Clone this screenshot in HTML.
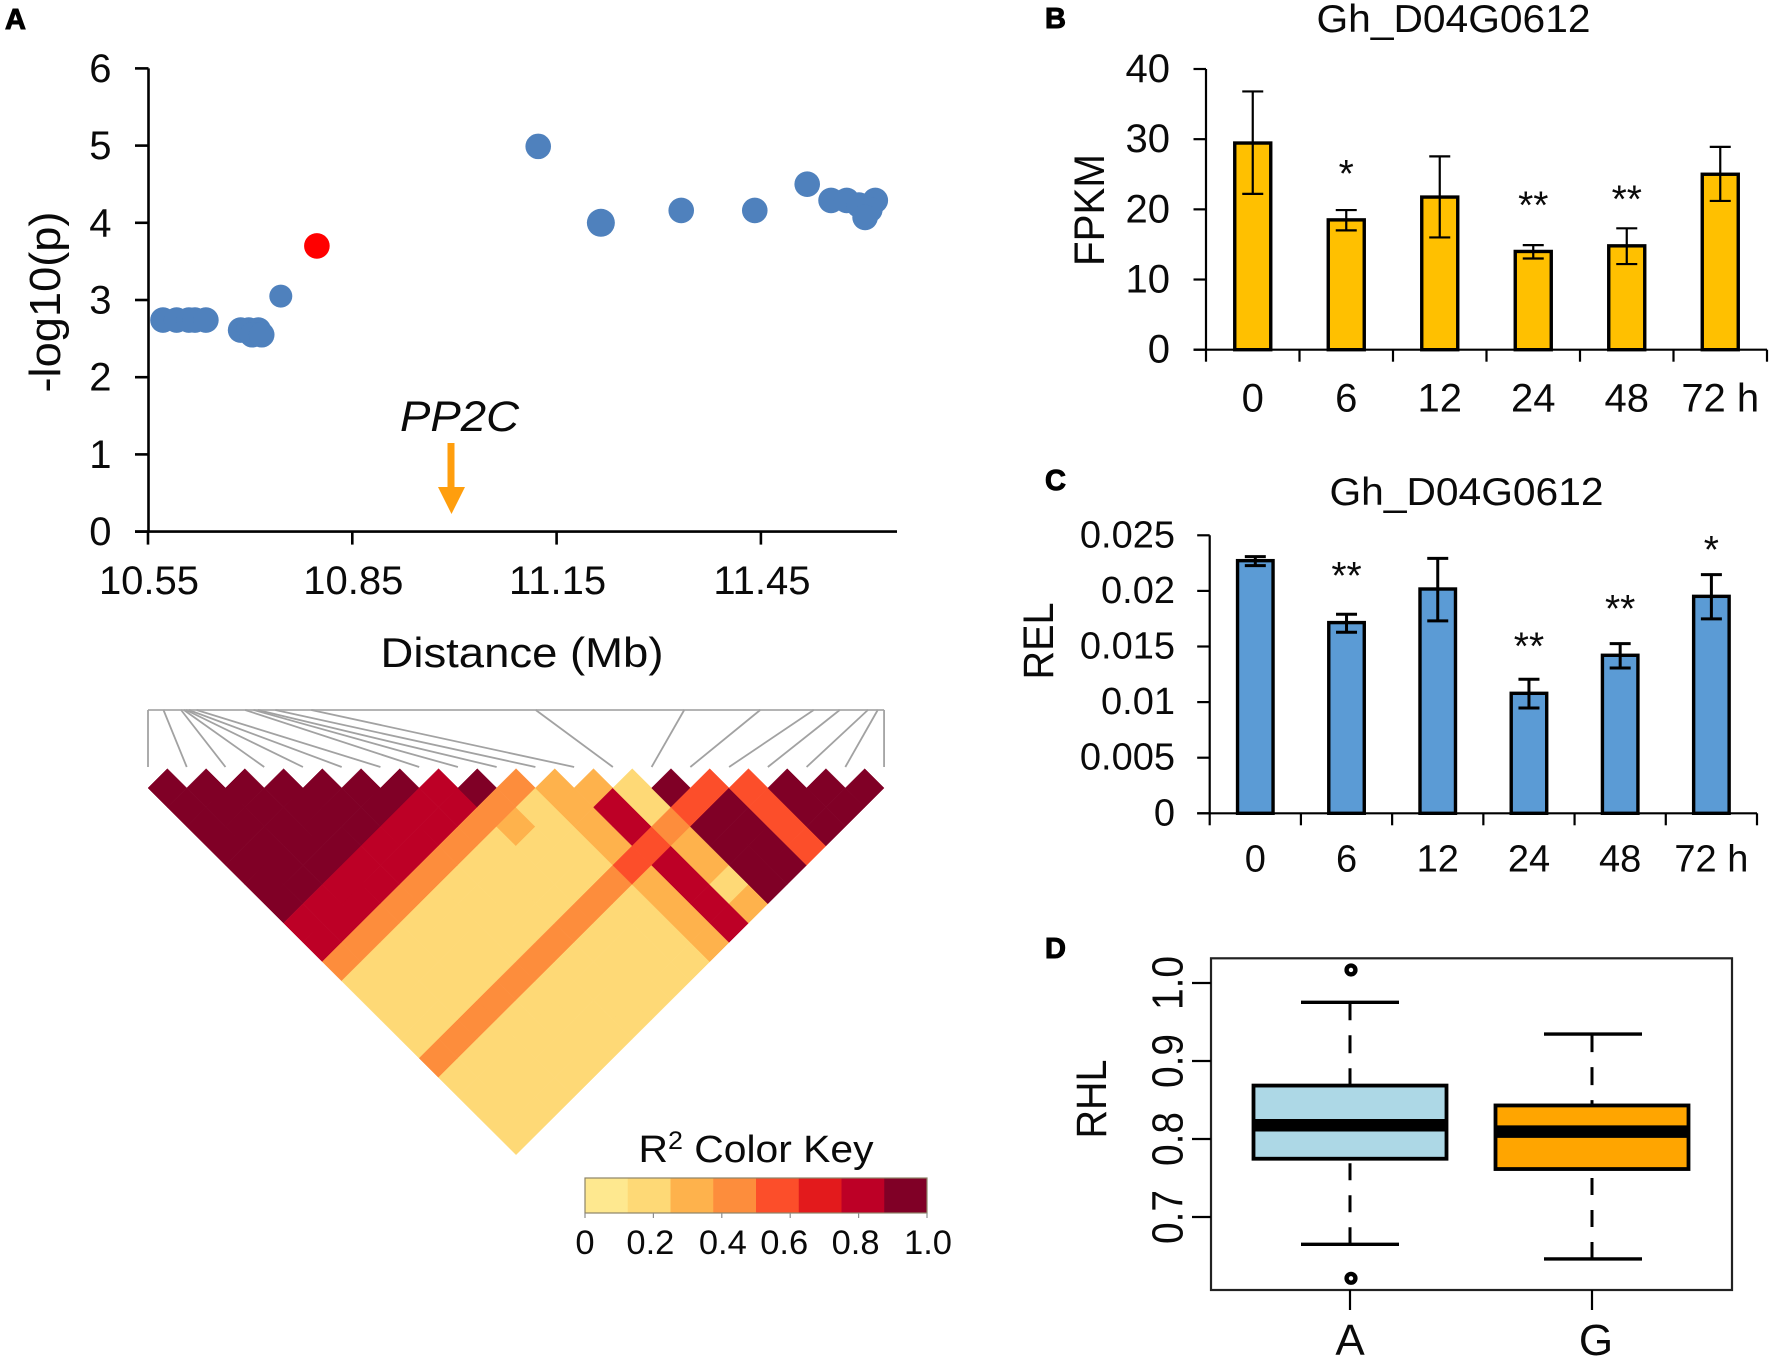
<!DOCTYPE html>
<html lang="en">
<head>
<meta charset="utf-8">
<title>PP2C association, LD and expression panels</title>
<style>
html,body{margin:0;padding:0;background:#fff;}
svg{display:block;font-family:"Liberation Sans",Arial,sans-serif;fill:#000;}
text{fill:#0a0a0a;}
.panel-label{font-weight:bold;font-size:29px;stroke:#000;stroke-width:1px;fill:#000;}
</style>
</head>
<body>
<svg id="figure" xmlns="http://www.w3.org/2000/svg" width="1772" height="1360" viewBox="0 0 1772 1360">
  <rect x="0" y="0" width="1772" height="1360" fill="#fff"/>

  <g id="panelA">
    <text class="panel-label" x="5" y="29">A</text>
    <text transform="translate(60,302) rotate(-90)" text-anchor="middle" font-size="44" textLength="181" lengthAdjust="spacingAndGlyphs">-log10(p)</text>
    <text x="522" y="667" text-anchor="middle" font-size="42" textLength="283" lengthAdjust="spacingAndGlyphs">Distance (Mb)</text>
    <text x="459.5" y="431" text-anchor="middle" font-size="43" font-style="italic" textLength="119" lengthAdjust="spacingAndGlyphs">PP2C</text>
    <line x1="451" y1="443" x2="451" y2="488" stroke="#ff9e0d" stroke-width="7"/>
    <polygon points="438,487 465,487 451.5,514" fill="#ff9e0d"/>
  </g>

  <g id="panelLD"></g>

  <g id="panelKey">
    <text x="756" y="1162" text-anchor="middle" font-size="38" textLength="235" lengthAdjust="spacingAndGlyphs">R<tspan font-size="25" dy="-13">2</tspan><tspan dy="13"> Color Key</tspan></text>
  </g>

  <g id="panelB">
    <text class="panel-label" x="1045" y="28">B</text>
    <text x="1453.5" y="32" text-anchor="middle" font-size="39" textLength="274" lengthAdjust="spacingAndGlyphs">Gh_D04G0612</text>
    <text transform="translate(1104,210) rotate(-90)" text-anchor="middle" font-size="43" textLength="112" lengthAdjust="spacingAndGlyphs">FPKM</text>
  </g>

  <g id="panelC">
    <text class="panel-label" x="1045" y="490">C</text>
    <text x="1466.5" y="505" text-anchor="middle" font-size="39" textLength="274" lengthAdjust="spacingAndGlyphs">Gh_D04G0612</text>
    <text transform="translate(1053,641) rotate(-90)" text-anchor="middle" font-size="43" textLength="77" lengthAdjust="spacingAndGlyphs">REL</text>
  </g>

  <g id="panelD">
    <text class="panel-label" x="1045" y="958">D</text>
    <text transform="translate(1106,1099) rotate(-90)" text-anchor="middle" font-size="43" textLength="79" lengthAdjust="spacingAndGlyphs">RHL</text>
  </g>
</svg>

<script>
/* ---------- Panel A data ---------- */
const snpMb   = [10.572,10.592,10.610,10.619,10.635,10.686,10.698,10.712,10.703,10.717,10.745,10.798,11.123,11.215,11.333,11.441,11.518,11.553,11.576,11.594,11.618,11.610,11.603];
const snpLogP = [2.74,2.74,2.74,2.74,2.74,2.61,2.61,2.61,2.55,2.55,3.05,3.70,4.99,4.00,4.16,4.16,4.50,4.29,4.29,4.23,4.29,4.17,4.07];
const leadSnpIndex = 11;
const manhattanYTicks = [0,1,2,3,4,5,6];
const manhattanXTicks = [10.55,10.85,11.15,11.45];

/* ---------- LD heatmap data: R2 for each SNP pair, row i holds j = i+1 .. 19 ---------- */
const ldMapMb = [10.572,10.594,10.619,10.623,10.626,10.630,10.641,10.710,10.722,10.728,10.753,10.804,11.123,11.334,11.442,11.518,11.555,11.595,11.609,11.618];
const ldRows = [
  [.95,.95,.95,.95,.95,.95,.95,.8,.8,.45,.2,.2,.2,.2,.45,.2,.2,.2,.2],
  [.95,.95,.95,.95,.95,.95,.8,.8,.45,.2,.2,.2,.2,.45,.2,.2,.2,.2],
  [.95,.95,.95,.95,.95,.8,.8,.45,.2,.2,.2,.2,.45,.2,.2,.2,.2],
  [.95,.95,.95,.95,.8,.8,.45,.2,.2,.2,.2,.45,.2,.2,.2,.2],
  [.95,.95,.95,.8,.8,.45,.2,.2,.2,.2,.45,.2,.2,.2,.2],
  [.95,.95,.8,.8,.45,.2,.2,.2,.2,.45,.2,.2,.2,.2],
  [.95,.8,.8,.45,.2,.2,.2,.2,.45,.2,.2,.2,.2],
  [.8,.8,.45,.2,.2,.2,.2,.45,.2,.2,.2,.2],
  [.95,.45,.3,.2,.2,.2,.45,.2,.2,.2,.2],
  [.45,.2,.2,.2,.2,.45,.2,.2,.2,.2],
  [.3,.3,.3,.3,.55,.3,.3,.3,.3],
  [.3,.8,.8,.55,.8,.8,.8,.8],
  [.2,.2,.45,.3,.3,.2,.3],
  [.95,.55,.95,.95,.95,.95],
  [.55,.95,.95,.95,.95],
  [.55,.55,.55,.55],
  [.95,.95,.95],
  [.95,.95],
  [.95]
];
const keyColors = ["#fee88f","#fed976","#feb24c","#fd8d3c","#fc4e2a","#e31a1c","#bd0026","#800026"];
const keyTicks  = [0,0.2,0.4,0.6,0.8,1.0];
const keyLabels = ["0","0.2","0.4","0.6","0.8","1.0"];

/* ---------- Panel B data ---------- */
const timeLabels = ["0","6","12","24","48","72 h"];
const fpkmValues = [29.45,18.5,21.75,14.0,14.8,25.0];
const fpkmErrHi  = [36.8,19.9,27.55,14.9,17.3,28.9];
const fpkmErrLo  = [22.2,17.0,16.0,13.0,12.2,21.2];
const fpkmStars  = ["","*","","**","**",""];
const fpkmStarAt = [0,25.6,0,21.1,21.95,0];
const fpkmTicks  = [0,10,20,30,40];
const fpkmTickLabels = ["0","10","20","30","40"];

/* ---------- Panel C data ---------- */
const relValues = [0.02272,0.01715,0.02017,0.01079,0.01421,0.01951];
const relErrHi  = [0.02308,0.0179,0.02293,0.01205,0.01526,0.02146];
const relErrLo  = [0.02227,0.01628,0.0173,0.00947,0.01307,0.01748];
const relStars  = ["","**","","**","**","*"];
const relStarAt = [0,0.0217,0,0.01534,0.01873,0.02404];
const relTicks  = [0,0.005,0.01,0.015,0.02,0.025];
const relTickLabels = ["0","0.005","0.01","0.015","0.02","0.025"];

/* ---------- Panel D data ---------- */
const boxLabels   = ["A","G"];
const boxQ1       = [0.7747,0.7615];
const boxMedian   = [0.8176,0.8094];
const boxQ3       = [0.8685,0.843];
const boxWhiskLo  = [0.665,0.6462];
const boxWhiskHi  = [0.9753,0.9345];
const boxOutliers = [[1.0167,0.6214],[]];
const boxFills    = ["#add8e6","#ffa500"];
const rhlTicks    = [0.7,0.8,0.9,1.0];
const rhlTickLabels = ["0.7","0.8","0.9","1.0"];

/* ---------- helpers ---------- */
const NS = "http://www.w3.org/2000/svg";
function mk(parent, tag, attrs) {
  const el = document.createElementNS(NS, tag);
  for (const k in attrs) el.setAttribute(k, attrs[k]);
  parent.appendChild(el);
  return el;
}
function mkText(parent, str, x, y, size, anchor) {
  const el = mk(parent, "text", {x: x, y: y, "font-size": size, "text-anchor": anchor || "middle"});
  el.textContent = str;
  return el;
}
function mkLine(parent, x1, y1, x2, y2, color, width) {
  return mk(parent, "line", {x1: x1, y1: y1, x2: x2, y2: y2, stroke: color, "stroke-width": width});
}

/* ---------- Panel A ---------- */
(function () {
  const g = document.getElementById("panelA");
  const xA = mb => 148 + (mb - 10.55) / 0.3 * 204.3;
  const yA = v => 531.6 - v * 77.2;

  const yAxis = mkLine(g, 148.5, yA(6), 148.5, yA(0) + 1, "#000", 2.6);
  
  
  const xAxis = mkLine(g, 135, yA(0), 897, yA(0), "#000", 2.6);
  
  

  manhattanYTicks.forEach(v => {
    const t = mkLine(g, 135, yA(v), 148.5, yA(v), "#000", 2.6);
    
    
    const l = mkText(g, String(v), 111.5, yA(v) + 13.5, 40, "end");
    
    
  });
  manhattanXTicks.forEach(v => {
    const t = mkLine(g, xA(v), yA(0), xA(v), yA(0) + 13, "#000", 2.6);
    
    
    const l = mkText(g, v.toFixed(2), xA(v) + 1, 594, 40);
    
    
  });
  snpMb.forEach((mb, i) => {
    const p = mk(g, "circle", {cx: xA(mb), cy: yA(snpLogP[i]), r: i === 10 ? 11.5 : (i === 13 ? 14 : 12.8), fill: i === leadSnpIndex ? "#ff0000" : "#4f81bd"});
    
    
  });
})();

/* ---------- LD heatmap ---------- */
(function () {
  const g = document.getElementById("panelLD");
  const left = 148, step = 38.74, half = step / 2, top = 788, rise = 19.3;
  const snpX = k => left + k * step;
  const mapX = mb => left + (mb - ldMapMb[0]) / (ldMapMb[ldMapMb.length - 1] - ldMapMb[0]) * (step * (ldMapMb.length - 1));
  const cellX = (i, j) => left + (i + j) * half;
  const cellY = (i, j) => top + (j - i - 1) * rise;
  const colorOf = r2 => keyColors[Math.min(keyColors.length - 1, Math.floor(r2 * keyColors.length))];

  const bar = mkLine(g, mapX(ldMapMb[0]), 710, mapX(ldMapMb[ldMapMb.length - 1]), 710, "#b4b4b4", 2);
  
  
  ldMapMb.forEach((mb, k) => {
    const c = mkLine(g, mapX(mb), 710, snpX(k), 767, "#a2a2a2", 1.8);
    
    
  });
  ldRows.forEach((row, i) => {
    row.forEach((r2, n) => {
      const j = i + 1 + n;
      const cx = cellX(i, j), cy = cellY(i, j), col = colorOf(r2);
      const cell = mk(g, "polygon", {
        points: (cx - half) + "," + cy + " " + cx + "," + (cy - rise) + " " + (cx + half) + "," + cy + " " + cx + "," + (cy + rise),
        fill: col, stroke: col, "stroke-width": 0.5
      });
      
      
    });
  });
})();

/* ---------- Color key ---------- */
(function () {
  const g = document.getElementById("panelKey");
  const x0 = 585, x1 = 927, y0 = 1178, y1 = 1213;
  const xK = v => x0 + v * (x1 - x0);
  keyColors.forEach((c, i) => {
    const r = mk(g, "rect", {x: xK(i / keyColors.length), y: y0, width: (x1 - x0) / keyColors.length + 0.3, height: y1 - y0, fill: c});
    
    
  });
  const frame = mk(g, "rect", {x: x0, y: y0, width: x1 - x0, height: y1 - y0, fill: "none", stroke: "#8d8468", "stroke-width": 1.2});
  
  
  const nudge = [0, -3, 1, -6, -3, 1];
  keyTicks.forEach((v, i) => {
    const t = mkLine(g, xK(v), y1, xK(v), y1 + 5, "#8d8d8d", 1.2);
    
    
    const l = mkText(g, keyLabels[i], xK(v) + nudge[i], 1254, 34.5);
    
    
  });
})();

/* ---------- Bar charts B and C ---------- */
function drawBars(g, frame, labels, values, errHi, errLo, stars, starAt, ticks, tickLabels) {
  const y = v => frame.y0 - v / frame.yMax * (frame.y0 - frame.yTop);
  const step = (frame.xR - frame.xL) / labels.length;
  const xC = i => frame.xL + step * (i + 0.5);
  const yAxis = mkLine(g, frame.xL, frame.yTop, frame.xL, frame.y0, "#000", 2.2);
  
  
  ticks.forEach((v, i) => {
    const t = mkLine(g, frame.xL - 12.5, y(v), frame.xL, y(v), "#000", 2.2);
    
    
    const l = mkText(g, tickLabels[i], frame.labelRight, y(v) + frame.labelDy, frame.font, "end");
    
    
  });
  values.forEach((v, i) => {
    const b = mk(g, "rect", {x: xC(i) - frame.barW / 2, y: y(v), width: frame.barW, height: frame.y0 - y(v), fill: frame.fill, stroke: "#000", "stroke-width": 3.4});
    
    
    const stem = mkLine(g, xC(i), y(errHi[i]), xC(i), y(errLo[i]), "#000", frame.errW);
    
    
    const capHi = mkLine(g, xC(i) - 10.5, y(errHi[i]), xC(i) + 10.5, y(errHi[i]), "#000", frame.errW);
    
    
    const capLo = mkLine(g, xC(i) - 10.5, y(errLo[i]), xC(i) + 10.5, y(errLo[i]), "#000", frame.errW);
    
    
    if (stars[i]) {
      const s = mkText(g, stars[i], xC(i), y(starAt[i]) + 17, 39);
      
      
    }
    const l = mkText(g, labels[i], xC(i), frame.xLabelY, frame.font);
    
    
  });
  const xAxis = mkLine(g, frame.xL - 12.5, frame.y0, frame.xR, frame.y0, "#000", 2.2);
  
  
  for (let i = 0; i <= labels.length; i++) {
    const t = mkLine(g, frame.xL + step * i, frame.y0, frame.xL + step * i, frame.y0 + 12, "#000", 2.2);
    
    
  }
}
drawBars(document.getElementById("panelB"),
  {xL: 1206, xR: 1767, y0: 349.7, yTop: 69, yMax: 40, barW: 36, fill: "#ffc000", errW: 2.2, labelRight: 1170, labelDy: 13, font: 40, xLabelY: 411.5},
  timeLabels, fpkmValues, fpkmErrHi, fpkmErrLo, fpkmStars, fpkmStarAt, fpkmTicks, fpkmTickLabels);
drawBars(document.getElementById("panelC"),
  {xL: 1209.7, xR: 1757, y0: 813.3, yTop: 535.3, yMax: 0.025, barW: 35.5, fill: "#5b9bd5", errW: 3, labelRight: 1175, labelDy: 12, font: 38, xLabelY: 871.5},
  timeLabels, relValues, relErrHi, relErrLo, relStars, relStarAt, relTicks, relTickLabels);

/* ---------- Panel D ---------- */
(function () {
  const g = document.getElementById("panelD");
  const yD = v => 1139 - (v - 0.8) * 780;
  const centers = [1350, 1592];
  const labelNudge = [0, 4];
  const boxW = 193, capW = 98;
  const frame = mk(g, "rect", {x: 1211, y: 958.3, width: 521, height: 331.7, fill: "none", stroke: "#222", "stroke-width": 2.2});
  
  
  rhlTicks.forEach((v, i) => {
    const t = mkLine(g, 1192, yD(v), 1211, yD(v), "#000", 2.2);
    
    
    const l = mk(g, "text", {
      transform: "translate(1182.5," + yD(v) + ") rotate(-90)",
      "text-anchor": "middle", "font-size": 44, textLength: 54, lengthAdjust: "spacingAndGlyphs"
    });
    l.textContent = rhlTickLabels[i];
    
    
  });
  boxLabels.forEach((name, i) => {
    const cx = centers[i];
    const wHi = mkLine(g, cx, yD(boxWhiskHi[i]), cx, yD(boxQ3[i]), "#000", 3);
    wHi.setAttribute('stroke-dasharray', '18 15');
    
    
    const wLo = mkLine(g, cx, yD(boxWhiskLo[i]), cx, yD(boxQ1[i]), "#000", 3);
    wLo.setAttribute('stroke-dasharray', '17 15');
    
    
    const capHi = mkLine(g, cx + i - capW / 2, yD(boxWhiskHi[i]), cx + i + capW / 2, yD(boxWhiskHi[i]), "#000", 3.4);
    
    
    const capLo = mkLine(g, cx + i - capW / 2, yD(boxWhiskLo[i]), cx + i + capW / 2, yD(boxWhiskLo[i]), "#000", 3.4);
    
    
    const box = mk(g, "rect", {x: cx - boxW / 2, y: yD(boxQ3[i]), width: boxW, height: yD(boxQ1[i]) - yD(boxQ3[i]), fill: boxFills[i], stroke: "#000", "stroke-width": 3.8});
    
    
    const med = mkLine(g, cx - boxW / 2, yD(boxMedian[i]), cx + boxW / 2, yD(boxMedian[i]), "#000", 12.5);
    
    
    boxOutliers[i].forEach(v => {
      const o = mk(g, "circle", {cx: cx + 1, cy: yD(v), r: 4.4, fill: "#fff", stroke: "#000", "stroke-width": 4.4});
      
      
    });
    const t = mkLine(g, cx, 1290, cx, 1310, "#000", 2.2);
    
    
    const l = mkText(g, name, cx + labelNudge[i], 1355, 44);
    
    
  });
})();
</script>
</body>
</html>
